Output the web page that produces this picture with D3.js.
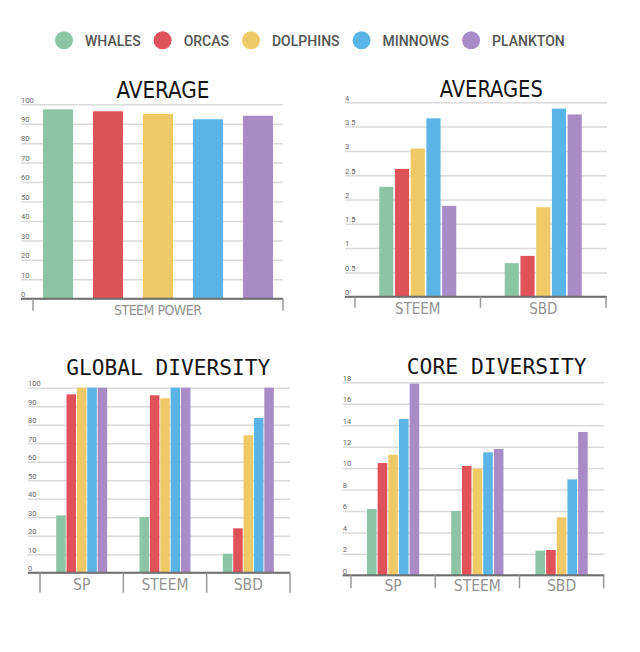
<!DOCTYPE html>
<html>
<head>
<meta charset="utf-8">
<script src="https://cdn.jsdelivr.net/npm/d3@7"></script>
<style>
  html, body { margin: 0; padding: 0; background: #fff; }
  svg { display: block; }
</style>
</head>
<body>
<svg id="chart" width="640" height="652"></svg>
<script>
// ---------- DATA ----------
const species = ["WHALES", "ORCAS", "DOLPHINS", "MINNOWS", "PLANKTON"];
const speciesColors = ["#8cc5a5", "#e0525a", "#efc965", "#5ab4e5", "#a98cc7"];

const averageCategories = ["STEEM POWER"];
const averageSteemPower = [97.4, 96.4, 95.0, 92.3, 94.1];
const averageTicks = [0, 10, 20, 30, 40, 50, 60, 70, 80, 90, 100];

const averagesCategories = ["STEEM", "SBD"];
const averagesSteem = [2.26, 2.63, 3.05, 3.67, 1.87];
const averagesSbd = [0.69, 0.84, 1.84, 3.87, 3.75];
const averagesTicks = [0, 0.5, 1, 1.5, 2, 2.5, 3, 3.5, 4];

const diversityCategories = ["SP", "STEEM", "SBD"];
const globalSp = [31, 96.4, 100, 100, 100];
const globalSteem = [30, 95.9, 94.3, 100, 100];
const globalSbd = [10.3, 24, 74.3, 83.6, 100];
const globalTicks = [0, 10, 20, 30, 40, 50, 60, 70, 80, 90, 100];

const coreSp = [6.18, 10.47, 11.25, 14.58, 17.88];
const coreSteem = [6.0, 10.2, 9.95, 11.47, 11.78];
const coreSbd = [2.3, 2.36, 5.41, 8.95, 13.37];
const coreTicks = [0, 2, 4, 6, 8, 10, 12, 14, 16, 18];

// ---------- LAYOUT ----------
const svg = d3.select("#chart");
const narrow = "'Liberation Sans Narrow','DejaVu Sans Condensed',sans-serif";
const mono = "'DejaVu Sans Mono','Liberation Mono',monospace";

const panels = [
  { title: "AVERAGE", titleFont: narrow, titleSize: 23, titleX: 163, titleY: 98, titleLen: 93,
    categories: averageCategories, values: [averageSteemPower], ticks: averageTicks, max: 100,
    gridX: [21, 283], axisX: [33, 283], yTop: 104.3, yBase: 298.7, labelY: 315, tickLen: 12,
    groupFrac: 1, padInner: 0.4, padOuter: 0.2, labelLen: 88, labelSize: 14 },
  { title: "AVERAGES", titleFont: narrow, titleSize: 23, titleX: 491.3, titleY: 96.7, titleLen: 103,
    categories: averagesCategories, values: [averagesSteem, averagesSbd], ticks: averagesTicks, max: 4,
    gridX: [345, 607], axisX: [355, 606], yTop: 102.3, yBase: 296.7, labelY: 314, tickLen: 11,
    groupFrac: 0.614, padInner: 0.1, padOuter: 0, labelSize: 15 },
  { title: "GLOBAL DIVERSITY", titleFont: mono, titleSize: 22, titleX: 168.3, titleY: 375, titleLen: 204,
    categories: diversityCategories, values: [globalSp, globalSteem, globalSbd], ticks: globalTicks, max: 100,
    gridX: [28, 290], axisX: [40, 290], yTop: 387.7, yBase: 572.7, labelY: 590, tickLen: 20,
    groupFrac: 0.612, padInner: 0.08, padOuter: 0, labelSize: 15.5 },
  { title: "CORE DIVERSITY", titleFont: mono, titleSize: 22, titleX: 496.7, titleY: 374.3, titleLen: 180,
    categories: diversityCategories, values: [coreSp, coreSteem, coreSbd], ticks: coreTicks, max: 18,
    gridX: [342.7, 604.3], axisX: [351, 603.7], yTop: 382.3, yBase: 575.3, labelY: 591, tickLen: 13,
    groupFrac: 0.62, padInner: 0.1, padOuter: 0, labelSize: 15.5 }
];

panels.forEach(p => {
  const g = svg.append("g");
  const y = d3.scaleLinear().domain([0, p.max]).range([p.yBase, p.yTop]);
  const xOuter = d3.scaleBand().domain(p.categories).range(p.axisX).padding(0);
  const groupW = xOuter.bandwidth() * p.groupFrac;
  const groupOff = (xOuter.bandwidth() - groupW) / 2;
  const xInner = d3.scaleBand().domain(species).range([0, groupW])
    .paddingInner(p.padInner).paddingOuter(p.padOuter);

  // gridlines + tick labels via axis
  const gridW = p.gridX[1] - p.gridX[0];
  const yAxis = d3.axisRight(y).tickValues(p.ticks).tickSize(gridW)
    .tickFormat(d => d3.format("~g")(d));
  const ga = g.append("g").attr("transform", `translate(${p.gridX[0]},0)`).call(yAxis);
  ga.select(".domain").remove();
  ga.selectAll(".tick line").attr("stroke", "#dadada").attr("stroke-width", 1.5);
  ga.selectAll(".tick text")
    .attr("x", 0).attr("dy", -2.2).attr("text-anchor", "start")
    .style("font-family", "Roboto, 'DejaVu Sans', sans-serif")
    .style("font-size", "7.5px").attr("fill", "#666");

  // bars
  p.categories.forEach((c, ci) => {
    g.append("g").selectAll("rect").data(species).join("rect")
      .attr("x", s => xOuter(c) + groupOff + xInner(s))
      .attr("width", xInner.bandwidth())
      .attr("y", (s, i) => y(p.values[ci][i]))
      .attr("height", (s, i) => y(0) - y(p.values[ci][i]))
      .attr("fill", (s, i) => speciesColors[i]);
  });

  // baseline
  g.append("line")
    .attr("x1", p.gridX[0]).attr("x2", p.gridX[1])
    .attr("y1", y(0)).attr("y2", y(0))
    .attr("stroke", "#6e6e6e").attr("stroke-width", 2);

  // bottom band boundary ticks
  const bounds = p.categories.map(c => xOuter(c)).concat([p.axisX[1]]);
  g.append("g").selectAll("line").data(bounds).join("line")
    .attr("x1", d => d).attr("x2", d => d)
    .attr("y1", y(0)).attr("y2", y(0) + p.tickLen)
    .attr("stroke", "#9a9a9a").attr("stroke-width", 1.5);

  // category labels
  const xAxis = d3.axisBottom(xOuter).tickSize(0);
  const gx = g.append("g").attr("transform", `translate(0,${p.labelY})`).call(xAxis);
  gx.select(".domain").remove();
  gx.selectAll(".tick line").remove();
  const lt = gx.selectAll(".tick text").attr("y", 0).attr("dy", 0)
    .style("font-family", narrow)
    .style("font-size", p.labelSize + "px")
    .attr("fill", "#939393");
  if (p.labelLen) lt.attr("textLength", p.labelLen).attr("lengthAdjust", "spacing");

  // title
  const t = g.append("text")
    .attr("x", p.titleX).attr("y", p.titleY)
    .attr("text-anchor", "middle")
    .style("font-family", p.titleFont)
    .style("font-size", p.titleSize + "px")
    .attr("fill", "#151515")
    .text(p.title);
  if (p.titleLen) t.attr("textLength", p.titleLen).attr("lengthAdjust", "spacingAndGlyphs");
});

// ---------- LEGEND ----------
const legend = svg.append("g");
let lx = 64;
species.forEach((s, i) => {
  legend.append("circle").attr("cx", lx).attr("cy", 40.3).attr("r", 9).attr("fill", speciesColors[i]);
  const txt = legend.append("text").attr("x", lx + 21).attr("y", 45.7)
    .style("font-family", "Roboto, 'DejaVu Sans', sans-serif")
    .style("font-size", "14px").style("font-weight", 500)
    .attr("fill", "#555").text(s);
  lx = lx + 21 + txt.node().getComputedTextLength() + 22;
});
</script>
</body>
</html>
